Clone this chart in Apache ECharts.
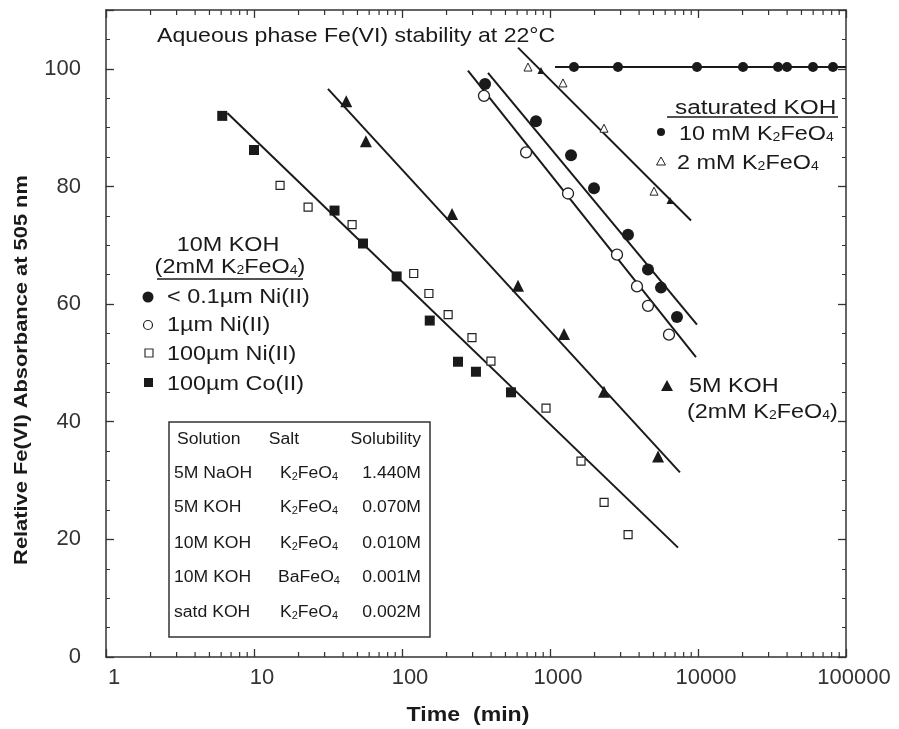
<!DOCTYPE html>
<html><head><meta charset="utf-8">
<script src="https://cdn.jsdelivr.net/npm/echarts@6/dist/echarts.min.js"></script>
<style>html,body{margin:0;padding:0;background:#fff}#c{width:899px;height:729px}</style>
</head><body><div id="c"></div>
<script>
// ---- data (time in min, relative absorbance %) ----
const coX = [6.1, 10, 35, 54.5, 92, 154, 239, 316, 545];
const coY = [92.0, 86.2, 75.9, 70.3, 64.7, 57.2, 50.2, 48.5, 45.0];
const ni100X = [15, 23.2, 46, 120, 152, 205, 297, 399, 940, 1620, 2320, 3370];
const ni100Y = [80.2, 76.5, 73.5, 65.2, 61.8, 58.2, 54.3, 50.3, 42.3, 33.3, 26.3, 20.8];
const koh10LineX = [6.6, 7330];
const koh10LineY = [92.5, 18.6];
const koh5X = [42, 57, 218, 608, 1244, 2316, 5370];
const koh5Y = [94.5, 87.7, 75.3, 63.1, 54.9, 45.1, 34.1];
const koh5LineX = [31.6, 7550];
const koh5LineY = [96.6, 31.4];
const ni01X = [364, 804, 1387, 1983, 3365, 4592, 5623, 7211];
const ni01Y = [97.4, 91.1, 85.3, 79.7, 71.8, 65.9, 62.8, 57.8];
const ni01LineX = [381, 9840];
const ni01LineY = [99.3, 56.5];
const ni1X = [358, 689, 1324, 2836, 3870, 4592, 6368];
const ni1Y = [95.4, 85.8, 78.8, 68.4, 63.0, 59.7, 54.8];
const ni1LineX = [279, 9690];
const ni1LineY = [99.7, 51.0];
const sat2X = [710, 1224, 2316, 5045];
const sat2Y = [100.3, 97.6, 89.9, 79.2];
const sat2bX = [869, 6471];
const sat2bY = [99.7, 77.6];
const sat2LineX = [608, 8970];
const sat2LineY = [103.6, 74.2];
const sat10X = [1452, 2879, 9843, 20150, 34730, 39930, 59830, 81690];
const sat10Y = [100.3, 100.3, 100.3, 100.3, 100.3, 100.3, 100.3, 100.3];
const sat10LineX = [1081, 100000];
const sat10LineY = [100.3, 100.3];
const xMinorTicks = [2,3,4,5,6,7,8,9,20,30,40,50,60,70,80,90,200,300,400,500,600,700,800,900,
  2000,3000,4000,5000,6000,7000,8000,9000,20000,30000,40000,50000,60000,70000,80000,90000];
const tableHeader = ['Solution', 'Salt', 'Solubility'];
const tableSolution = ['5M NaOH', '5M KOH', '10M KOH', '10M KOH', 'satd KOH'];
const tableSalt = ['K{s|2}FeO{s|4}', 'K{s|2}FeO{s|4}', 'K{s|2}FeO{s|4}', 'BaFeO{s|4}', 'K{s|2}FeO{s|4}'];
const tableSolubility = ['1.440M', '0.070M', '0.010M', '0.001M', '0.002M'];

const FONT = '"Liberation Sans", Arial, Helvetica, sans-serif';
const INK = '#1a1a1a';
const pts = (xs, ys) => xs.map((x, i) => [x, ys[i]]);

function lineSeries(xs, ys) {
  return { type: 'line', data: pts(xs, ys), symbol: 'none', silent: true, z: 2,
    lineStyle: { color: INK, width: 2 }, animation: false };
}
function scatter(xs, ys, symbol, size, filled, bw) {
  return { type: 'scatter', data: pts(xs, ys), symbol, symbolSize: size, z: 3, silent: true,
    itemStyle: filled ? { color: INK, opacity: 1 } : { color: '#fff', borderColor: '#222', borderWidth: bw || 1.2, opacity: 1 },
    animation: false };
}

const chart = echarts.init(document.getElementById('c'));

const series = [
  lineSeries(koh10LineX, koh10LineY),
  lineSeries(koh5LineX, koh5LineY),
  lineSeries(ni01LineX, ni01LineY),
  lineSeries(ni1LineX, ni1LineY),
  lineSeries(sat2LineX, sat2LineY),
  lineSeries(sat10LineX, sat10LineY),
  scatter(coX, coY, 'rect', 10, true),
  scatter(ni100X, ni100Y, 'rect', 8, false, 1.2),
  scatter(koh5X, koh5Y, 'triangle', 12, true),
  scatter(ni01X, ni01Y, 'circle', 12, true),
  scatter(ni1X, ni1Y, 'circle', 11, false, 1.3),
  scatter(sat2X, sat2Y, 'triangle', 8, false, 1),
  scatter(sat2bX, sat2bY, 'triangle', 7, true),
  scatter(sat10X, sat10Y, 'circle', 10, true),
  // log-axis minor ticks (bottom and top)
  { type: 'scatter', data: xMinorTicks.map(v => [v, 0]), symbol: 'rect', symbolSize: [1.2, 5],
    symbolOffset: [0, -2.5], itemStyle: { color: '#333', opacity: 1 }, silent: true, z: 4, animation: false },
  { type: 'scatter', data: xMinorTicks.map(v => [v, 110]), symbol: 'rect', symbolSize: [1.2, 5],
    symbolOffset: [0, 2.5], itemStyle: { color: '#333', opacity: 1 }, silent: true, z: 4, animation: false }
];

function T(x, y, text, size, extra, sx) {
  const st = Object.assign({ text, x: 0, y: 0, fill: INK, font: size + 'px ' + FONT,
    textAlign: 'left', textVerticalAlign: 'middle',
    rich: { s: { fontSize: Math.round(size * 0.62), fontFamily: FONT, fill: INK, verticalAlign: 'bottom' } } }, extra || {});
  return { type: 'text', x, y, z: 10, scaleX: sx || 1.17, silent: true, style: st };
}

const graphic = [];
// title
graphic.push(T(157, 36, 'Aqueous phase Fe(VI) stability at 22°C', 21, null, 1.1));
// axis names
graphic.push({ type: 'text', x: 22, y: 370, rotation: Math.PI / 2, scaleX: 1.15, silent: true,
  style: { text: 'Relative Fe(VI) Absorbance at 505 nm', font: 'bold 19px ' + FONT, fill: INK,
    textAlign: 'center', textVerticalAlign: 'middle' } });
graphic.push(T(468, 715, 'Time  (min)', 21, { font: 'bold 21px ' + FONT, textAlign: 'center' }, 1.1));

// 10M KOH legend
graphic.push(T(228, 245, '10M KOH', 20, { textAlign: 'center' }));
graphic.push(T(230, 267, '(2mM K{s|2}FeO{s|4})', 20, { textAlign: 'center' }));
graphic.push({ type: 'line', silent: true, shape: { x1: 157, y1: 279, x2: 303, y2: 279 }, style: { stroke: INK, lineWidth: 1.3 } });
graphic.push({ type: 'circle', silent: true, shape: { cx: 148, cy: 297, r: 5.5 }, style: { fill: INK } });
graphic.push(T(167, 297, '< 0.1µm Ni(II)', 20));
graphic.push({ type: 'circle', silent: true, shape: { cx: 148, cy: 325, r: 4.5 }, style: { fill: '#fff', stroke: '#222', lineWidth: 1.2 } });
graphic.push(T(167, 325, '1µm Ni(II)', 20));
graphic.push({ type: 'rect', silent: true, shape: { x: 145, y: 349, width: 8, height: 8 }, style: { fill: '#fff', stroke: '#333', lineWidth: 1.2 } });
graphic.push(T(167, 354, '100µm Ni(II)', 20));
graphic.push({ type: 'rect', silent: true, shape: { x: 144, y: 378, width: 9, height: 9 }, style: { fill: INK } });
graphic.push(T(167, 384, '100µm Co(II)', 20));

// table
graphic.push({ type: 'rect', silent: true, shape: { x: 169, y: 422, width: 261, height: 215 }, style: { fill: '#fff', stroke: '#333', lineWidth: 1.5 }, z: 9 });
graphic.push(T(177, 440, tableHeader[0], 16, null, 1.1));
graphic.push(T(284, 440, tableHeader[1], 16, { textAlign: 'center' }, 1.1));
graphic.push(T(421, 440, tableHeader[2], 16, { textAlign: 'right' }, 1.1));
const rowY = [474, 508, 544, 578, 613];
tableSolution.forEach((s, i) => {
  graphic.push(T(174, rowY[i], s, 16, null, 1.1));
  graphic.push(T(309, rowY[i], tableSalt[i], 16, { textAlign: 'center' }, 1.1));
  graphic.push(T(421, rowY[i], tableSolubility[i], 16, { textAlign: 'right' }, 1.1));
});

// saturated KOH legend
graphic.push(T(675, 108, 'saturated KOH', 20, null, 1.22));
graphic.push({ type: 'line', silent: true, shape: { x1: 667, y1: 117, x2: 838, y2: 117 }, style: { stroke: INK, lineWidth: 1.3 } });
graphic.push({ type: 'circle', silent: true, shape: { cx: 661, cy: 132, r: 4 }, style: { fill: INK } });
graphic.push(T(679, 134, '10 mM K{s|2}FeO{s|4}', 20));
graphic.push({ type: 'polygon', silent: true, shape: { points: [[661, 157], [665.5, 165], [656.5, 165]] }, style: { fill: '#fff', stroke: '#222', lineWidth: 1 } });
graphic.push(T(677, 163, '2 mM K{s|2}FeO{s|4}', 20));

// 5M KOH legend
graphic.push({ type: 'polygon', silent: true, shape: { points: [[667, 380], [673, 391], [661, 391]] }, style: { fill: INK } });
graphic.push(T(689, 386, '5M KOH', 20));
graphic.push(T(687, 412, '(2mM K{s|2}FeO{s|4})', 20));

const axisLine = { show: true, onZero: false, lineStyle: { color: '#333', width: 1.5 } };
const option = {
  backgroundColor: '#fff',
  animation: false,
  grid: { left: 106, right: 53, top: 10, bottom: 72, containLabel: false },
  xAxis: [
    { type: 'log', logBase: 10, min: 1, max: 100000, position: 'bottom', axisLine,
      axisTick: { inside: true, length: 8, lineStyle: { color: '#333', width: 1.3 } },
      axisLabel: { fontSize: 22, color: '#333', fontFamily: FONT, margin: 10, padding: [0, 0, 0, 16], formatter: v => String(v) },
      splitLine: { show: false } },
    { type: 'log', logBase: 10, min: 1, max: 100000, position: 'top', axisLine,
      axisTick: { inside: true, length: 8, lineStyle: { color: '#333', width: 1.3 } },
      axisLabel: { show: false }, splitLine: { show: false } }
  ],
  yAxis: [
    { type: 'value', min: 0, max: 110, interval: 20, position: 'left', axisLine,
      axisTick: { inside: true, length: 8, lineStyle: { color: '#333', width: 1.3 } },
      minorTick: { show: true, splitNumber: 4, length: 4, lineStyle: { color: '#333', width: 1 } },
      axisLabel: { fontSize: 22, color: '#333', fontFamily: FONT, margin: 25, showMaxLabel: false },
      splitLine: { show: false }, minorSplitLine: { show: false } },
    { type: 'value', min: 0, max: 110, interval: 20, position: 'right', axisLine,
      axisTick: { inside: true, length: 8, lineStyle: { color: '#333', width: 1.3 } },
      minorTick: { show: true, splitNumber: 4, length: 4, lineStyle: { color: '#333', width: 1 } },
      axisLabel: { show: false }, splitLine: { show: false } }
  ],
  series,
  graphic
};
chart.setOption(option);
</script></body></html>
